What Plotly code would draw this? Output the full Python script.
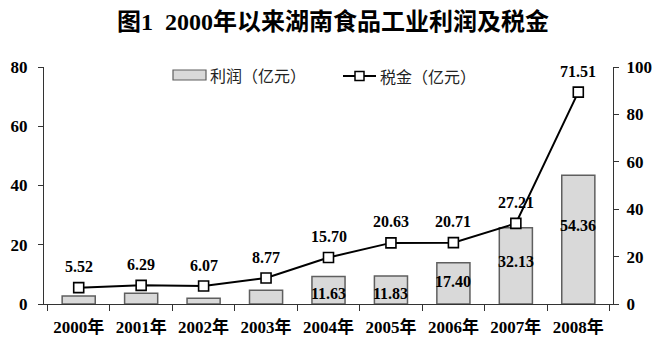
import plotly.graph_objects as go

categories = ["2000年", "2001年", "2002年", "2003年", "2004年", "2005年", "2006年", "2007年", "2008年"]
profit = [3.4, 4.5, 2.4, 5.8, 11.63, 11.83, 17.40, 32.13, 54.36]   # 利润 (bars, right axis)
tax = [5.52, 6.29, 6.07, 8.77, 15.70, 20.63, 20.71, 27.21, 71.51]   # 税金 (line, left axis)
profit_labels = [None, None, None, None, "11.63", "11.83", "17.40", "32.13", "54.36"]
tax_labels = ["5.52", "6.29", "6.07", "8.77", "15.70", "20.63", "20.71", "27.21", "71.51"]
left_ticks = [0, 20, 40, 60, 80]
right_ticks = [0, 20, 40, 60, 80, 100]

# label offsets (style)
bar_label_shift = [0, 0, 0, 0, -17, -18, -19, -34, -50]
line_label_shift = 21

# page has an 8px body margin, so the figure is drawn 8px in from the window edge
OFF = 8
W, H = 668 - OFF, 359 - OFF
L, R, T, B = 44 - OFF, 668 - 613, 67 - OFF, 359 - 304
pw, ph = W - L - R, H - T - B

serif = "Liberation Serif, Noto Sans CJK SC"
sans = "Noto Sans CJK SC, Noto Sans"

fig = go.Figure()
fig.add_trace(go.Bar(
    x=categories, y=profit, name="利润（亿元）", yaxis="y",
    marker=dict(color="#d9d9d9", line=dict(color="#5f5f5f", width=1.5)),
    width=0.53, showlegend=False, hoverinfo="x+y",
))
fig.add_trace(go.Scatter(
    x=categories, y=tax, name="税金（亿元）", yaxis="y2", mode="lines+markers",
    line=dict(color="black", width=2),
    marker=dict(symbol="square", size=10, color="white", line=dict(color="black", width=1.6)),
    showlegend=False, hoverinfo="x+y",
))

annotations = []
for c, v, t, s in zip(categories, profit, profit_labels, bar_label_shift):
    if t:
        annotations.append(dict(x=c, y=v, xref="x", yref="y", text=t, showarrow=False,
                                yshift=s, font=dict(family=serif, size=16, color="black", weight="bold")))
for c, v, t in zip(categories, tax, tax_labels):
    annotations.append(dict(x=c, y=v, xref="x", yref="y2", text=t, showarrow=False,
                            yshift=line_label_shift,
                            font=dict(family=serif, size=16, color="black", weight="bold")))

def px(x):
    return (x - OFF - L) / pw

def py(y):
    return (H - B - (y - OFF)) / ph

# custom legend
shapes = [
    dict(type="rect", xref="paper", yref="paper", x0=px(173), x1=px(206), y0=py(80), y1=py(70),
         fillcolor="#d9d9d9", line=dict(color="#5f5f5f", width=1.2)),
    dict(type="line", xref="paper", yref="paper", x0=px(343), x1=px(376), y0=py(76), y1=py(76),
         line=dict(color="black", width=2)),
    dict(type="rect", xref="paper", yref="paper", x0=px(355), x1=px(364), y0=py(80.5), y1=py(71.5),
         fillcolor="white", line=dict(color="black", width=1.5)),
]
annotations.append(dict(x=px(208), y=py(75), xref="paper", yref="paper", text="利润（亿元）",
                        showarrow=False, xanchor="left", yanchor="middle",
                        font=dict(family=sans, size=16, color="#222")))
annotations.append(dict(x=px(378), y=py(76), xref="paper", yref="paper", text="税金（亿元）",
                        showarrow=False, xanchor="left", yanchor="middle",
                        font=dict(family=sans, size=16, color="#222")))

fig.update_layout(
    width=W, height=H,
    margin=dict(l=L, r=R, t=T, b=B, autoexpand=False),
    paper_bgcolor="white", plot_bgcolor="white",
    title=dict(text="图1  2000年以来湖南食品工业利润及税金", x=(333 - OFF) / W, xanchor="center",
               y=1 - (22 - OFF) / H, yanchor="middle",
               font=dict(family=serif, size=24, color="black", weight="bold")),
    xaxis=dict(type="category", showline=True, linecolor="#333", linewidth=1, ticks="outside",
               tickson="boundaries", ticklen=6, tickcolor="#333", showgrid=False,
               ticklabelstandoff=8,
               tickfont=dict(family=serif, size=17, color="black", weight="bold")),
    yaxis=dict(side="right", range=[0, 100], tickvals=right_ticks, showline=True, linecolor="#333",
               linewidth=1, ticks="outside", ticklen=5, tickcolor="#333", showgrid=False, zeroline=False,
               ticklabelstandoff=4,
               tickfont=dict(family=serif, size=17, color="black", weight="bold")),
    yaxis2=dict(side="left", overlaying="y", range=[0, 80], tickvals=left_ticks, showline=True,
                linecolor="#333", linewidth=1, ticks="outside", ticklen=5, tickcolor="#333",
                showgrid=False, zeroline=False, ticklabelstandoff=7,
                tickfont=dict(family=serif, size=17, color="black", weight="bold")),
    bargap=0.47,
    annotations=annotations,
    shapes=shapes,
)

fig.write_html("out.html")
